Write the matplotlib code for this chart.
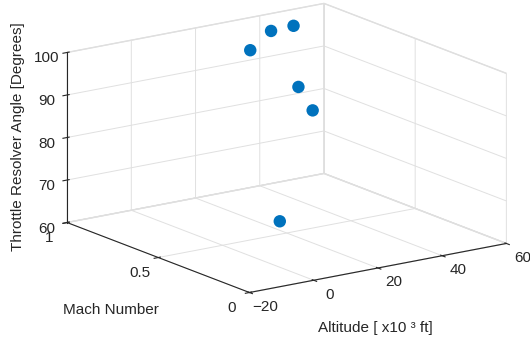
import matplotlib
matplotlib.use("Agg")
import matplotlib.pyplot as plt
import numpy as np

plt.rcParams['font.family'] = ['Liberation Sans', 'DejaVu Sans']

# Data
altitude = [20, 35, 42, 35, 40, 15]          # x10^3 ft
mach = [0.70, 0.85, 0.85, 0.70, 0.71, 0.45]
tra = [99.7, 99.6, 99.8, 88.9, 82.5, 64.3]   # degrees

alt_ticks = [-20, 0, 20, 40, 60]
mach_ticks = [0, 0.5, 1]
tra_ticks = [60, 70, 80, 90, 100]

fig = plt.figure(figsize=(5.30, 3.45), dpi=100)
ax = fig.add_axes([0.0322, 0.0576, 1.0, 1.0], projection='3d', proj_type='ortho')
ax.view_init(elev=15.7, azim=-125.2)
ax.set_box_aspect((315, 317, 177), zoom=1.35)

ax.scatter(altitude, mach, tra, s=80, c='#0072BD', depthshade=False, edgecolors='none')

ax.set_xlim(-20, 60)
ax.set_ylim(0, 1)
ax.set_zlim(60, 100)
ax.set_xticks(alt_ticks)
ax.set_yticks(mach_ticks)
ax.set_zticks(tra_ticks)
ax.set_yticklabels(['0', '0.5', '1'])

for axis in (ax.xaxis, ax.yaxis, ax.zaxis):
    axis.set_pane_color((1, 1, 1, 1))
    axis.pane.set_edgecolor('#dcdcdc')
    axis.line.set_color('#262626')
    axis.line.set_linewidth(0.8)
    axis._axinfo['grid']['color'] = '#e0e0e0'
    axis._axinfo['grid']['linewidth'] = 0.7
    axis._axinfo['tick']['color'] = '#262626'
ax.tick_params(labelsize=11, colors='#262626')
ax.tick_params(axis='x', pad=3.5)
ax.tick_params(axis='y', pad=1)
ax.tick_params(axis='z', pad=-2)
for lbl in ax.get_xticklabels():
    lbl.set_verticalalignment('bottom')
for lbl in ax.get_yticklabels():
    lbl.set_verticalalignment('center')

fig.text(0.709, 0.049, 'Altitude [ x10 ³ ft]', fontsize=11, color='#262626', ha='center', va='center')
fig.text(0.209, 0.101, 'Mach Number', fontsize=11, color='#262626', ha='center', va='center')
fig.text(0.034, 0.603, 'Throttle Resolver Angle [Degrees]', fontsize=11, color='#262626',
         ha='center', va='center', rotation=90)

fig.savefig('out.png', dpi=100)
